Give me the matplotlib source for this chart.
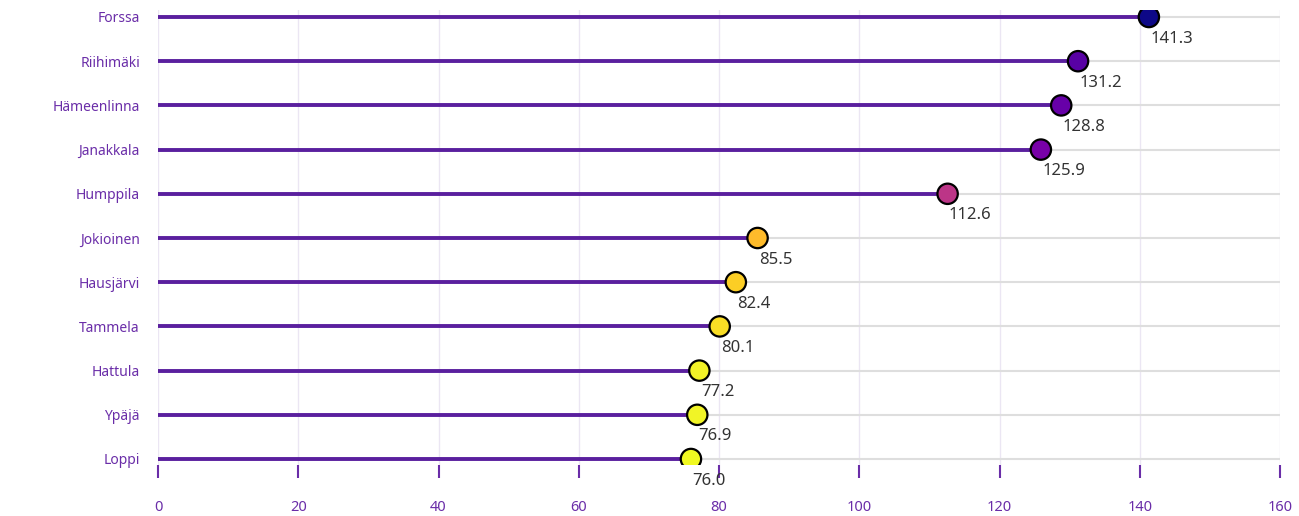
import matplotlib as mpl
import matplotlib.pyplot as plt
import numpy as np

# данные
towns = ['Forssa', 'Riihimäki', 'Hämeenlinna', 'Janakkala', 'Humppila',
         'Jokioinen', 'Hausjärvi', 'Tammela', 'Hattula', 'Ypäjä', 'Loppi']
values = [141.3, 131.2, 128.8, 125.9, 112.6, 85.5, 82.4, 80.1, 77.2, 76.9, 76.0]
x_ticks = [0, 20, 40, 60, 80, 100, 120, 140, 160]

mpl.rcParams['font.family'] = ['Noto Sans', 'DejaVu Sans']

fig = plt.figure(figsize=(12.99, 5.16), dpi=100)
W, H = 1299, 516
left, right, top, bottom = 158, 1280, 10, 465
axes = fig.add_axes([left / W, 1 - bottom / H, (right - left) / W, (bottom - top) / H])

n = len(towns)
ypos = np.arange(n)[::-1]
vals = np.array(values)

label_color = '#6a2da8'
stem_color = '#5a1f9e'

axes.set_xlim(0, 160)
axes.set_ylim(-6 / 44.2, (n - 1) + 7 / 44.2)

# сетка
for x in x_ticks:
    axes.axvline(x, color='#ebe6f3', lw=1, zorder=0)
for y in ypos:
    axes.axhline(y, color='#dedede', lw=1.5, zorder=1)

# стебли и маркеры
axes.hlines(ypos, 0, vals, color=stem_color, lw=2.8, zorder=2)
norm = mpl.colors.Normalize(vmin=vals.min(), vmax=vals.max())
axes.scatter(vals, ypos, s=215, c=vals, cmap='plasma_r', norm=norm,
             edgecolors='black', linewidths=1.6, zorder=3)

for v, y in zip(vals, ypos):
    axes.annotate(f'{v:.1f}', (v, y), xytext=(1, -15.5), textcoords='offset points',
                  ha='left', va='center', fontsize=12, color='#333333', zorder=4)

axes.set_yticks(ypos)
axes.set_yticklabels(towns)
axes.set_xticks(x_ticks)
axes.tick_params(axis='y', length=0, pad=13, labelsize=10, labelcolor=label_color)
axes.tick_params(axis='x', length=9, width=1.5, color=label_color, pad=16,
                 labelsize=10.5, labelcolor=label_color)

for s in axes.spines.values():
    s.set_visible(False)

plt.savefig('out.png', dpi=100)
plt.close(fig)
